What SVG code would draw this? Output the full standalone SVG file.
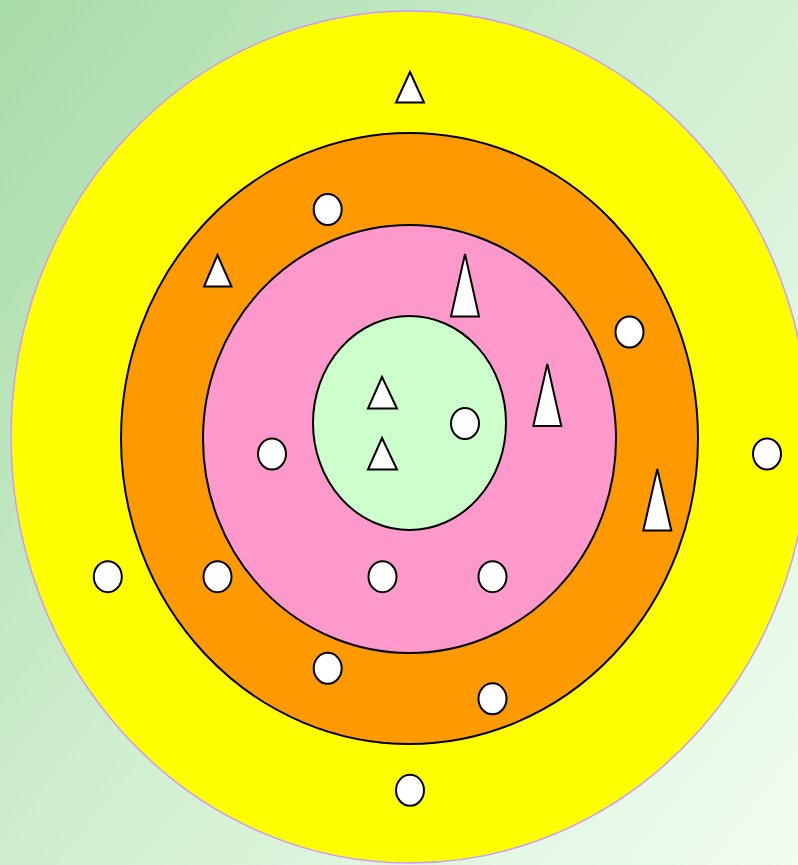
<svg xmlns="http://www.w3.org/2000/svg" width="798" height="865" viewBox="0 0 798 865">
<defs>
<linearGradient id="bg" gradientUnits="userSpaceOnUse" x1="0" y1="0" x2="919" y2="707">
<stop offset="0" stop-color="#a8dca8"/>
<stop offset="0.5" stop-color="#d1efd1"/>
<stop offset="1" stop-color="#f0fdf0"/>
</linearGradient>
</defs>
<style>
.ring{stroke:#000;stroke-width:2}
.dot{fill:#fff;stroke:#000;stroke-width:2}
.tri{fill:#fff;stroke:#000;stroke-width:2;stroke-linejoin:miter}
</style>
<rect x="0" y="0" width="798" height="865" fill="url(#bg)"/>
<g id="outer-ring">
<ellipse cx="410" cy="437" rx="399" ry="426" fill="#ffff00" stroke="#cc99ff" stroke-width="1.5"/>
</g>
<g id="middle-ring">
<ellipse class="ring" cx="409.5" cy="438.5" rx="288.5" ry="305.5" fill="#ff9900"/>
</g>
<g id="inner-ring">
<ellipse class="ring" cx="409.5" cy="439" rx="206.5" ry="214" fill="#ff99cc"/>
</g>
<g id="core">
<ellipse class="ring" cx="409.5" cy="423" rx="96.5" ry="107" fill="#ccffcc"/>
</g>
<g id="markers">
<polygon class="tri" points="410,72 396,102.5 424,102.5"/>
<polygon class="tri" points="217.5,255 204,286.5 231.5,286.5"/>
<polygon class="tri" points="382,377 368,408.5 397,408.5"/>
<polygon class="tri" points="382,438 368,469.5 397,469.5"/>
<polygon class="tri" points="465,254 451,316.5 479,316.5"/>
<polygon class="tri" points="547.3,364 533.3,426 561.3,426"/>
<polygon class="tri" points="657.3,469 643.3,530.5 671.3,530.5"/>
<ellipse class="dot" cx="327.7" cy="209.5" rx="14" ry="15.5"/>
<ellipse class="dot" cx="629.5" cy="332" rx="14" ry="15.5"/>
<ellipse class="dot" cx="465" cy="423.5" rx="14" ry="15.5"/>
<ellipse class="dot" cx="272" cy="454" rx="14" ry="15.5"/>
<ellipse class="dot" cx="767" cy="454" rx="14" ry="15.5"/>
<ellipse class="dot" cx="107.8" cy="576.7" rx="14" ry="15.5"/>
<ellipse class="dot" cx="217.5" cy="576.7" rx="14" ry="15.5"/>
<ellipse class="dot" cx="382.5" cy="576.7" rx="14" ry="15.5"/>
<ellipse class="dot" cx="492.5" cy="576.7" rx="14" ry="15.5"/>
<ellipse class="dot" cx="327.7" cy="668.3" rx="14" ry="15.5"/>
<ellipse class="dot" cx="492.5" cy="698.8" rx="14" ry="15.5"/>
<ellipse class="dot" cx="410" cy="790.3" rx="14" ry="15.5"/>
</g>
<g id="connectors"/>
</svg>
